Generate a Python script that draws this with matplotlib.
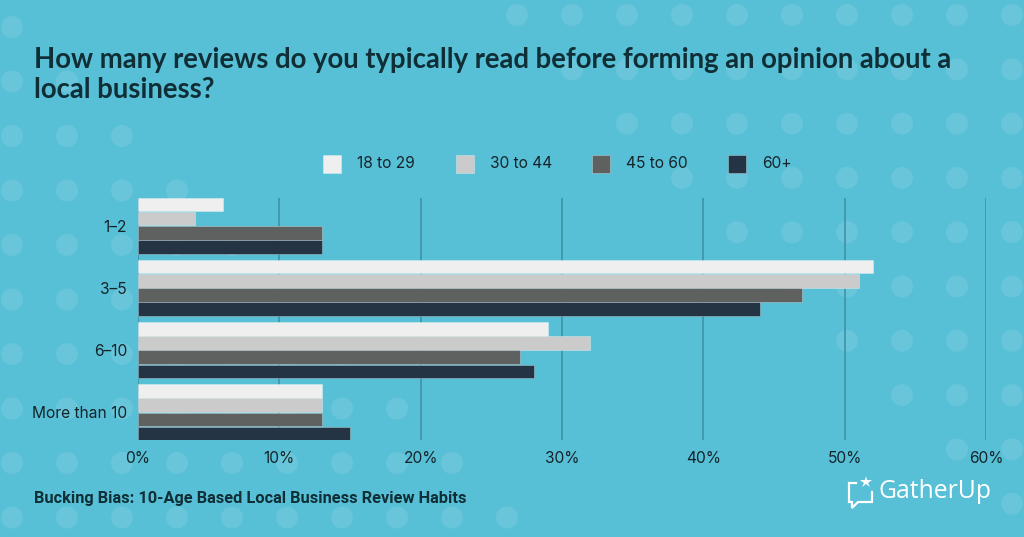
import matplotlib
matplotlib.use("Agg")
import matplotlib.pyplot as plt
from matplotlib.patches import Rectangle, Ellipse
from matplotlib.lines import Line2D
import numpy as np

categories = ["1\u20132", "3\u20135", "6\u201310", "More than 10"]
series_names = ["18 to 29", "30 to 44", "45 to 60", "60+"]
v_18_29 = [6, 52, 29, 13]
v_30_44 = [4, 51, 32, 13]
v_45_60 = [13, 47, 27, 13]
v_60p = [13, 44, 28, 15]
values = [v_18_29, v_30_44, v_45_60, v_60p]
colors = ["#EFEFEF", "#CBCBCB", "#5F6060", "#243444"]
xticks = [0, 10, 20, 30, 40, 50, 60]
xtick_labels = [f"{t}%" for t in xticks]

BG = "#57C0D6"
DOT = "#69C6DA"
DARK = "#0F2E36"
TXT = "#15242A"
GRID = "#3D8FA3"

W, H = 1024, 537
fig = plt.figure(figsize=(W / 100, H / 100), dpi=100, facecolor=BG)

def fx(x):
    return x / W

def fy(y):
    return 1 - y / H

# decorative dot pattern
for j in range(10):
    for k in range(10):
        if k <= j:
            cx, cy = 12 + 55 * k, 27 + 54.5 * j
            fig.add_artist(Ellipse((fx(cx), fy(cy)), 22 / W, 22 / H, transform=fig.transFigure,
                                   facecolor=DOT, edgecolor="none", zorder=-5))
        if k >= j:
            cx, cy = 517 + 55 * k, 15 + 54.3 * j
            fig.add_artist(Ellipse((fx(cx), fy(cy)), 22 / W, 22 / H, transform=fig.transFigure,
                                   facecolor=DOT, edgecolor="none", zorder=-5))

# axes
pitch = 0.227
bh = 0.215
ax_left, ax_right = 138, 986
ax_top, ax_bot = 198, 440
ax = fig.add_axes([fx(ax_left), fy(ax_bot), (ax_right - ax_left) / W, (ax_bot - ax_top) / H])
ax.patch.set_alpha(0)
idx = np.arange(len(categories))
for i, (vals, c) in enumerate(zip(values, colors)):
    ax.barh(idx + (i - 1.5) * pitch, vals, height=bh, color=c,
            edgecolor=(1, 1, 1, 0.35), linewidth=0.6, zorder=3, label=series_names[i])

ext = 2 * pitch - (pitch - bh) / 2
ax.set_ylim(3 + ext, -ext)
ax.set_xlim(0, 60)
ax.set_xticks(xticks)
ax.set_xticklabels(xtick_labels)
ax.set_yticks(idx)
ax.set_yticklabels(categories)
ax.xaxis.grid(True, color=GRID, linewidth=1.1, zorder=0)
ax.set_axisbelow(True)
for s in ax.spines.values():
    s.set_visible(False)
ax.tick_params(axis="both", length=0, labelcolor=TXT, labelsize=11.2)
ax.tick_params(axis="x", pad=8)
ax.tick_params(axis="y", pad=8)
for lab in ax.get_xticklabels() + ax.get_yticklabels():
    lab.set_fontfamily("Inter")

# title
fig.text(fx(34), fy(68), "How many reviews do you typically read before forming an opinion about a",
         fontfamily="Lato", fontweight="bold", fontsize=19.8, color=DARK, va="baseline", ha="left")
fig.text(fx(34), fy(98), "local business?",
         fontfamily="Lato", fontweight="bold", fontsize=19.8, color=DARK, va="baseline", ha="left")

# legend
sq_x = [323, 456, 592, 728]
lab_x = [357, 490, 626, 762]
for sx, lx, name, c in zip(sq_x, lab_x, series_names, colors):
    fig.add_artist(Rectangle((fx(sx), fy(173)), 18 / W, 18 / H, transform=fig.transFigure,
                             facecolor=c, edgecolor=(1, 1, 1, 0.35), linewidth=0.6))
    fig.text(fx(lx), fy(164), name, fontfamily="Inter", fontsize=11.2, color=TXT,
             va="center", ha="left")

# footer
fig.text(fx(34), fy(498), "Bucking Bias: 10-Age Based Local Business Review Habits",
         fontfamily="Roboto", fontweight="bold", fontsize=11.8, color=DARK, va="center", ha="left")

# logo
pts = [(856, 483), (849, 483), (849, 502), (852, 502), (852, 508), (858, 502), (872, 502), (872, 492)]
fig.add_artist(Line2D([fx(p[0]) for p in pts], [fy(p[1]) for p in pts], transform=fig.transFigure,
                      color="white", linewidth=1.6, solid_joinstyle="miter"))
fig.add_artist(Line2D([fx(866)], [fy(482)], transform=fig.transFigure, marker="*",
                      markersize=9, color="white", markeredgewidth=0))
fig.text(fx(878), fy(498), "GatherUp", fontfamily="Open Sans", fontsize=17.8, color="white",
         va="baseline", ha="left")

fig.savefig("out.png", dpi=100, facecolor=BG)
